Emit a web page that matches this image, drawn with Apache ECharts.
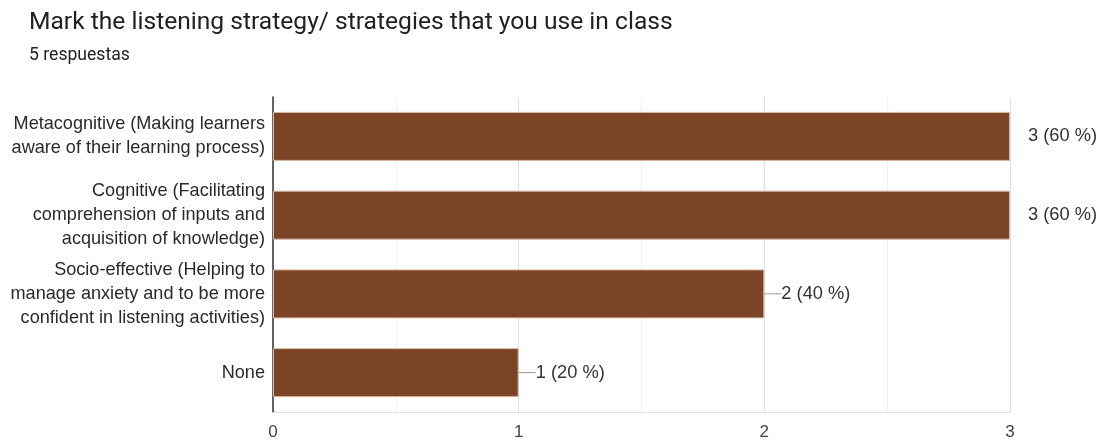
<!DOCTYPE html>
<html>
<head>
<meta charset="utf-8">
<script src="https://cdn.jsdelivr.net/npm/echarts@6/dist/echarts.min.js"></script>
<style>
  html, body { margin: 0; padding: 0; background: #fff; }
  #chart { width: 1102px; height: 441px; }
</style>
</head>
<body>
<div id="chart"></div>
<script>
// categories and counts
var categories = [
  'Metacognitive (Making learners\naware of their learning process)',
  'Cognitive (Facilitating\ncomprehension of inputs and\nacquisition of knowledge)',
  'Socio-effective (Helping to\nmanage anxiety and to be more\nconfident in listening activities)',
  'None'
];
var counts = [3, 3, 2, 1];
var percents = [60, 60, 40, 20];
var totalAnswers = 5;
var xTicks = [0, 1, 2, 3];

var chart = echarts.init(document.getElementById('chart'));
var maxCount = Math.max.apply(null, counts);

var option = {
  animation: false,
  textStyle: { fontFamily: '"Liberation Sans", Arial, sans-serif' },
  title: {
    text: 'Mark the listening strategy/ strategies that you use in class',
    subtext: totalAnswers + ' respuestas',
    left: 24,
    top: 5,
    itemGap: 12,
    textStyle: { fontSize: 24.6, fontWeight: 'normal', color: '#202124', fontFamily: 'Roboto' },
    subtextStyle: { fontSize: 17.6, color: '#202124', fontFamily: 'Roboto' }
  },
  grid: { left: 273, right: 92, top: 97, bottom: 28 },
  xAxis: {
    type: 'value',
    min: xTicks[0],
    max: xTicks[xTicks.length - 1],
    interval: 1,
    axisLine: { show: true, lineStyle: { color: '#e0e0e0' } },
    axisTick: { show: false },
    axisLabel: { fontSize: 17, color: '#444', margin: 12 },
    splitLine: { show: true, lineStyle: { color: '#e0e0e0' } },
    minorTick: { show: false, splitNumber: 2 },
    minorSplitLine: { show: true, lineStyle: { color: '#f1f1f1' } }
  },
  yAxis: {
    type: 'category',
    inverse: true,
    data: categories,
    axisLine: { show: true, lineStyle: { color: '#333', width: 1.5 } },
    axisTick: { show: false },
    axisLabel: { fontSize: 18.1, color: '#2a2a2a', lineHeight: 24, margin: 8, align: 'right' }
  },
  series: [{
    type: 'bar',
    barWidth: 49,
    data: counts,
    itemStyle: { color: '#7b4426', borderColor: '#d9b9a3', borderWidth: 1 },
    label: {
      show: true,
      position: 'right',
      distance: 0,
      formatter: function (p) {
        var txt = p.value + ' (' + percents[p.dataIndex] + ' %)';
        return (p.value === maxCount ? '{n|}' : '{l|}') + '{t|' + txt + '}';
      },
      rich: {
        l: { width: 17, height: 1, backgroundColor: '#999' },
        n: { width: 18, height: 1 },
        t: { fontSize: 18.3, color: '#333' }
      }
    }
  }]
};

chart.setOption(option);
</script>
</body>
</html>
